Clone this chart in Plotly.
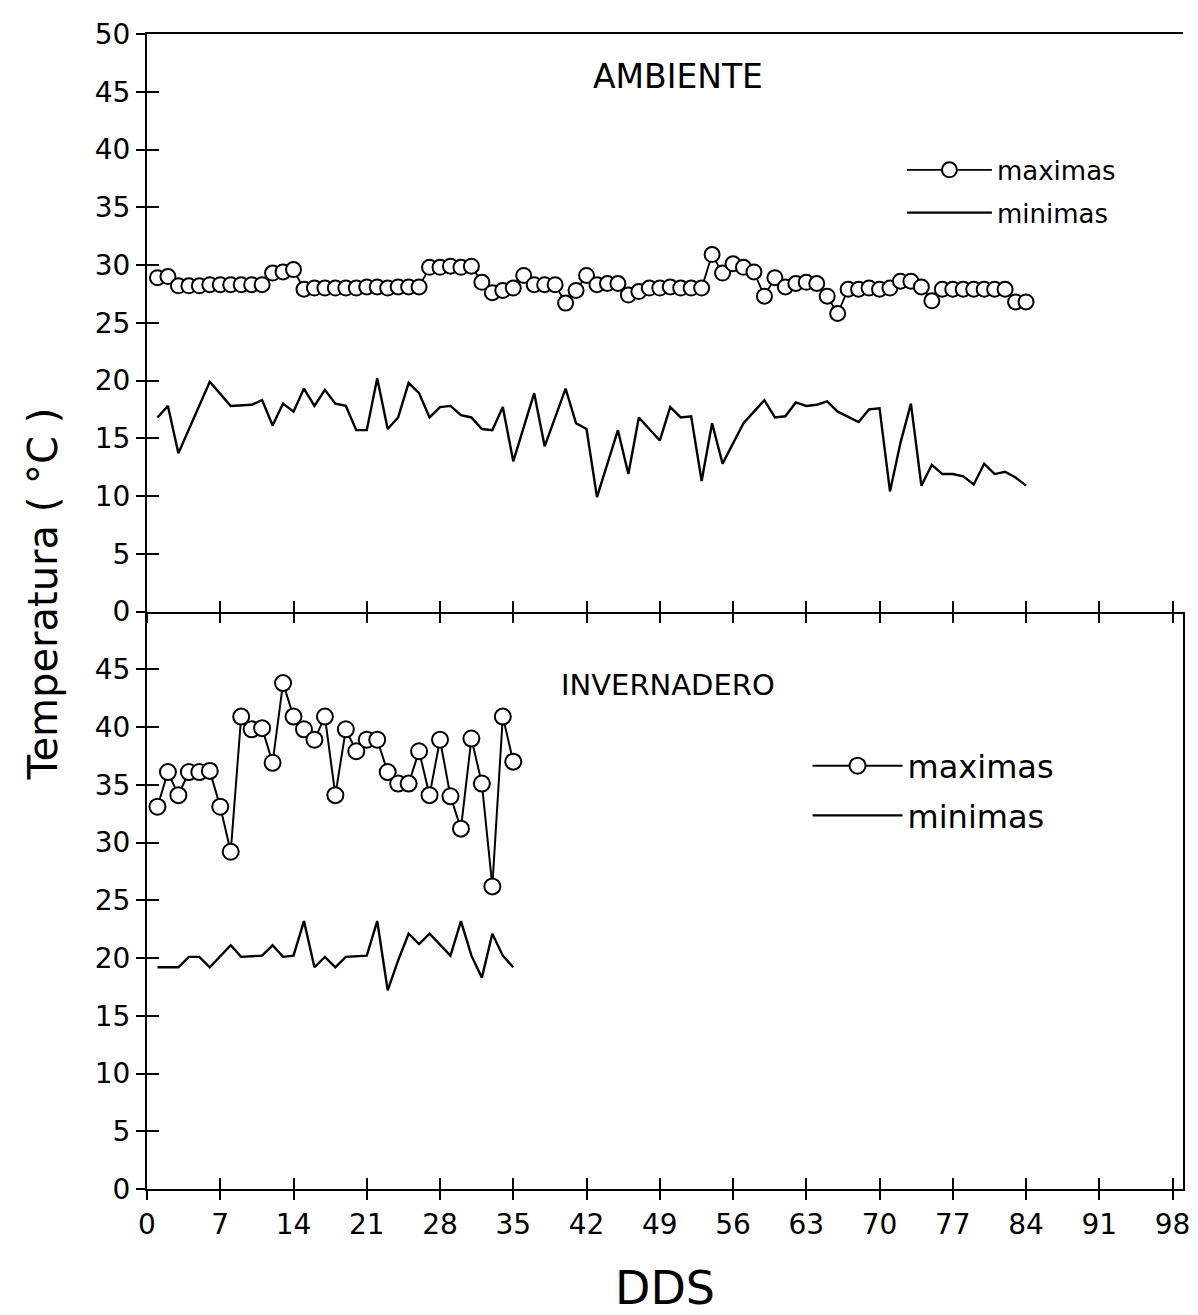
import plotly.graph_objects as go

# ---------------- data ----------------
tick_days = [0, 7, 14, 21, 28, 35, 42, 49, 56, 63, 70, 77, 84, 91, 98]
tick_text = [str(v) for v in tick_days]
top_ticks = [0, 5, 10, 15, 20, 25, 30, 35, 40, 45, 50]
bottom_ticks = [0, 5, 10, 15, 20, 25, 30, 35, 40, 45]

# AMBIENTE - maximas
amb_max_day = list(range(1, 85))
amb_max = [28.9, 29.0,
           28.2, 28.2, 28.2, 28.3, 28.3, 28.3, 28.3, 28.3, 28.3,
           29.3, 29.4, 29.6,
           27.9,
           28.0, 28.0, 28.0, 28.0, 28.0, 28.1, 28.1, 28.0, 28.1, 28.1, 28.1,
           29.8, 29.8, 29.9, 29.8, 29.9,
           28.5, 27.6, 27.8, 28.0, 29.1,
           28.3, 28.3, 28.3,
           26.7, 27.8, 29.1,
           28.3, 28.4, 28.4,
           27.4, 27.7,
           28.0, 28.0, 28.1, 28.0, 28.0, 28.0,
           30.9, 29.3, 30.1, 29.8, 29.4, 27.3, 28.9, 28.1,
           28.4, 28.5, 28.4,
           27.3, 25.8,
           27.9, 27.9, 28.0, 27.9, 28.0,
           28.6, 28.6, 28.1, 26.9,
           27.9, 27.9, 27.9, 27.9, 27.9, 27.9, 27.9,
           26.8, 26.8]

# AMBIENTE - minimas
amb_min_day = [1, 2, 3, 6, 8, 10, 11, 12, 13, 14, 15, 16, 17, 18, 19, 20, 21, 22, 23,
               24, 25, 26, 27, 28, 29, 30, 31, 32, 33, 34, 35, 37, 38, 40, 41, 42, 43,
               45, 46, 47, 49, 50, 51, 52, 53, 54, 55, 57, 59, 60, 61, 62, 63, 64, 65,
               66, 68, 69, 70, 71, 72, 73, 74, 75, 76, 77, 78, 79, 80, 81, 82, 83, 84]
amb_min = [16.8, 17.8, 13.7, 19.9, 17.8, 17.9, 18.3, 16.1, 18.0, 17.3, 19.3, 17.8, 19.2,
           18.0, 17.8, 15.7, 15.7, 20.2, 15.8, 16.8, 19.8, 18.9, 16.8, 17.7, 17.8, 17.0,
           16.8, 15.8, 15.7, 17.7, 13.0, 18.9, 14.3, 19.3, 16.3, 15.8, 9.9, 15.7, 11.9,
           16.8, 14.8, 17.7, 16.8, 16.9, 11.3, 16.3, 12.8, 16.3, 18.3, 16.8, 16.9, 18.1,
           17.8, 17.9, 18.2, 17.3, 16.4, 17.5, 17.6, 10.4, 14.6, 18.0, 10.9, 12.7, 11.9,
           11.9, 11.7, 11.0, 12.8, 11.9, 12.1, 11.6, 10.9]

# INVERNADERO - maximas
inv_max_day = list(range(1, 36))
inv_max = [33.1, 36.1, 34.1, 36.1, 36.1, 36.2, 33.1, 29.2, 40.9, 39.8, 39.9, 36.9,
           43.8, 40.9, 39.8, 38.9, 40.9, 34.1, 39.8, 37.9, 38.9, 38.9, 36.1, 35.1,
           35.1, 37.9, 34.1, 38.9, 34.0, 31.2, 39.0, 35.1, 26.2, 40.9, 37.0]

# INVERNADERO - minimas
inv_min_day = [1, 3, 4, 5, 6, 8, 9, 11, 12, 13, 14, 15, 16, 17, 18, 19, 21, 22, 23,
               24, 25, 26, 27, 29, 30, 31, 32, 33, 34, 35]
inv_min = [19.2, 19.2, 20.1, 20.1, 19.2, 21.1, 20.1, 20.2, 21.1, 20.1, 20.2, 23.2,
           19.2, 20.1, 19.2, 20.1, 20.2, 23.2, 17.2, 19.8, 22.1, 21.2, 22.1, 20.2,
           23.2, 20.2, 18.3, 22.1, 20.2, 19.2]

# ---------------- figure ----------------
FONT = "DejaVu Sans"
INK = "black"

def circle_marker(size):
    return dict(symbol="circle", size=size, color="white",
                line=dict(color=INK, width=2))

fig = go.Figure()

fig.add_trace(go.Scatter(x=amb_max_day, y=amb_max, mode="lines+markers", name="maximas",
                         xaxis="x2", yaxis="y2", legend="legend", legendgroup="a_max",
                         line=dict(color=INK, width=1.8), marker=circle_marker(15)))
fig.add_trace(go.Scatter(x=amb_min_day, y=amb_min, mode="lines", name="minimas",
                         xaxis="x2", yaxis="y2", legend="legend", legendgroup="a_min",
                         line=dict(color=INK, width=2.4)))
fig.add_trace(go.Scatter(x=inv_max_day, y=inv_max, mode="lines+markers", name="maximas",
                         xaxis="x", yaxis="y", legend="legend2", legendgroup="i_max",
                         line=dict(color=INK, width=2), marker=circle_marker(16)))
fig.add_trace(go.Scatter(x=inv_min_day, y=inv_min, mode="lines", name="minimas",
                         xaxis="x", yaxis="y", legend="legend2", legendgroup="i_min",
                         line=dict(color=INK, width=2.4)))

# empty traces so that the inside-tick overlay axes get drawn (crossing tick marks)
fig.add_trace(go.Scatter(x=[], y=[], xaxis="x3", yaxis="y3", showlegend=False, hoverinfo="skip"))
fig.add_trace(go.Scatter(x=[], y=[], xaxis="x4", yaxis="y4", showlegend=False, hoverinfo="skip"))

XR = [0, 99]
YR = [0, 50]
tickfont = dict(family=FONT, size=28, color=INK)

base_x = dict(range=XR, tickvals=tick_days, ticktext=tick_text, showgrid=False,
              zeroline=False, tickcolor=INK, tickwidth=2)
base_y = dict(range=YR, showgrid=False, zeroline=False, tickcolor=INK, tickwidth=2)

fig.update_layout(
    width=1198, height=1315,
    margin=dict(l=147, r=8, t=34, b=125),
    paper_bgcolor="white", plot_bgcolor="white",
    font=dict(family=FONT, color=INK),
    xaxis=dict(**base_x, domain=[0, 1], anchor="y", ticks="outside", ticklen=9,
               showline=True, linecolor=INK, linewidth=2, mirror=False,
               tickfont=tickfont, ticklabeloverflow="allow",
               title=dict(text="DDS", font=dict(family=FONT, size=46, color=INK), standoff=34)),
    yaxis=dict(**base_y, domain=[0, 0.5], anchor="x", tickvals=bottom_ticks,
               ticks="outside", ticklen=9, showline=True, linecolor=INK, linewidth=2,
               mirror=True, tickfont=tickfont),
    xaxis2=dict(**base_x, domain=[0, 1], anchor="y2", ticks="outside", ticklen=9,
                showticklabels=False, showline=True, linecolor=INK, linewidth=2, mirror=True),
    yaxis2=dict(**base_y, domain=[0.5, 1], anchor="x2", tickvals=top_ticks,
                ticks="outside", ticklen=9, showline=True, linecolor=INK, linewidth=2,
                mirror=False, tickfont=tickfont),
    xaxis3=dict(**base_x, overlaying="x", anchor="y", ticks="inside", ticklen=11,
                showticklabels=False, showline=False),
    yaxis3=dict(**base_y, overlaying="y", anchor="x", tickvals=bottom_ticks,
                ticks="inside", ticklen=12, showticklabels=False, showline=False),
    xaxis4=dict(**base_x, overlaying="x2", anchor="y2", ticks="inside", ticklen=11,
                showticklabels=False, showline=False),
    yaxis4=dict(**base_y, overlaying="y2", anchor="x2", tickvals=top_ticks,
                ticks="inside", ticklen=12, showticklabels=False, showline=False),
    legend=dict(x=0.7287, y=0.9027, xanchor="left", yanchor="top", itemwidth=85,
                traceorder="grouped", tracegroupgap=6, bgcolor="rgba(0,0,0,0)",
                font=dict(family=FONT, size=26, color=INK)),
    legend2=dict(x=0.6376, y=0.3901, xanchor="left", yanchor="top", itemwidth=90,
                 traceorder="grouped", tracegroupgap=5, bgcolor="rgba(0,0,0,0)",
                 font=dict(family=FONT, size=32, color=INK)),
    annotations=[
        dict(text="AMBIENTE", xref="paper", yref="paper", x=0.513, y=0.9628,
             xanchor="center", yanchor="middle", showarrow=False,
             font=dict(family=FONT, size=33, color=INK)),
        dict(text="INVERNADERO", xref="paper", yref="paper", x=0.503, y=0.436,
             xanchor="center", yanchor="middle", showarrow=False,
             font=dict(family=FONT, size=29, color=INK)),
        dict(text="Temperatura\u00a0(\u00a0°C\u00a0)", xref="paper", yref="paper",
             x=-0.1007, y=0.5147, xanchor="center", yanchor="middle",
             textangle=-90, showarrow=False, font=dict(family=FONT, size=40, color=INK)),
    ],
)

fig.write_html("out.html")
